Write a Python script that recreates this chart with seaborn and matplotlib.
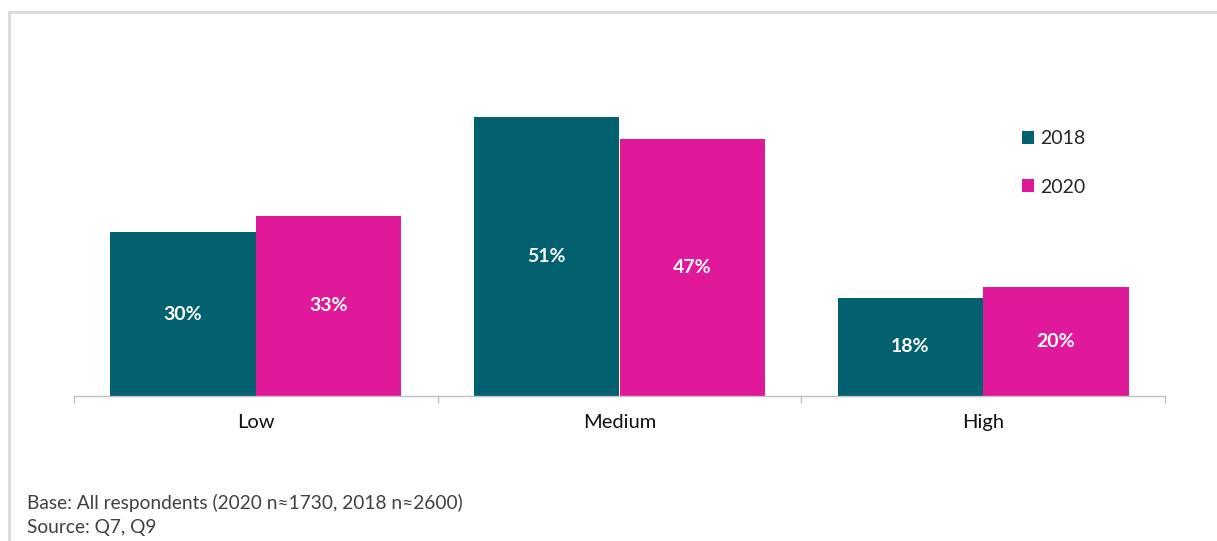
import matplotlib
matplotlib.use("Agg")
import matplotlib.pyplot as plt
from matplotlib.patches import Rectangle, Patch
import pandas as pd
import seaborn as sns

categories = ["Low", "Medium", "High"]
years = ["2018", "2020"]
values_2018 = [30, 51, 18]
values_2020 = [33, 47, 20]
colors = {"2018": "#02606F", "2020": "#E0199A"}

df = pd.DataFrame({
    "level": categories * 2,
    "year": [years[0]] * 3 + [years[1]] * 3,
    "share": values_2018 + values_2020,
})

sns.set_theme(style="white")
plt.rcParams["font.family"] = ["Lato", "DejaVu Sans"]

W, H = 1217, 541
fig = plt.figure(figsize=(W / 100, H / 100), dpi=100)
ax = fig.add_axes([74 / W, 145 / H, (1165 - 74) / W, 328 / H])

sns.barplot(data=df, x="level", y="share", hue="year", order=categories,
            hue_order=years, palette=colors, width=0.8, saturation=1,
            linewidth=0, legend=False, ax=ax)

for container in ax.containers:
    ax.bar_label(container, labels=[f"{v:.0f}%" for v in container.datavalues],
                 label_type="center", color="white", fontweight="bold",
                 fontsize=14)

ax.set_ylim(0, 60)
ax.set_xlim(-0.5, 2.5)
ax.set_xlabel("")
ax.set_ylabel("")
ax.set_yticks([])
for s in ["left", "right", "top"]:
    ax.spines[s].set_visible(False)
ax.spines["bottom"].set_color("#BFBFBF")
ax.spines["bottom"].set_linewidth(1)
ax.tick_params(axis="x", which="major", length=0, pad=13, labelsize=14.5,
               labelcolor="#111111")
ax.set_xticks([-0.5, 0.5, 1.5, 2.5], minor=True)
ax.tick_params(axis="x", which="minor", length=5, width=1, color="#BFBFBF",
               direction="out", bottom=True)

handles = [Patch(facecolor=colors[y], edgecolor="none") for y in years]
leg = fig.legend(handles, years, loc="upper left",
                 bbox_to_anchor=(1004 / W, 1 - 113 / H), frameon=False,
                 fontsize=14, handlelength=0.65, handleheight=0.65,
                 handletextpad=0.3, labelspacing=1.6)

fig.text(27 / W, 1 - 503 / H, "Base: All respondents (2020 n\u22481730, 2018 n\u22482600)",
         fontsize=13.8, color="#404040", va="center", ha="left")
fig.text(27 / W, 1 - 527 / H, "Source: Q7, Q9",
         fontsize=13.8, color="#404040", va="center", ha="left")

fig.patches.append(Rectangle((9 / W, -0.2), 1.2, 1.2 - 12 / H,
                             transform=fig.transFigure, fill=False,
                             edgecolor="#D9D9D9", linewidth=2))

fig.savefig("out.png", dpi=100)
